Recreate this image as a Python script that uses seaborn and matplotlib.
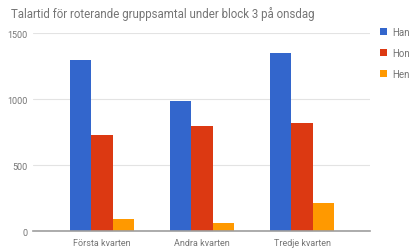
import pandas as pd
import matplotlib.pyplot as plt
import seaborn as sns

# Values
kvartar = ['Första kvarten', 'Andra kvarten', 'Tredje kvarten']
han = [1295, 985, 1350]
hon = [728, 797, 820]
hen = [92, 65, 218]
serier = ['Han', 'Hon', 'Hen']
farger = ['#3366cc', '#dc3912', '#ff9900']
yticks = [0, 500, 1000, 1500]

df = pd.DataFrame({
    'kvart': kvartar * 3,
    'tid': han + hon + hen,
    'kön': [s for s in serier for _ in kvartar],
})

sns.set_theme(style='white')
plt.rcParams['font.family'] = ['Roboto', 'DejaVu Sans']

fig = plt.figure(figsize=(4.2, 2.53), dpi=100)
ax = fig.add_axes([0.0786, 0.0818, 0.8024, 0.7826])

sns.barplot(data=df, x='kvart', y='tid', hue='kön', palette=farger,
            hue_order=serier, order=kvartar, width=0.64, linewidth=0,
            saturation=1, ax=ax)

ax.set_xlim(-0.69, 2.68)
ax.set_ylim(0, 1500)
ax.set_yticks(yticks)
ax.set_xlabel('')
ax.set_ylabel('')
ax.grid(axis='y', color='#e3e3e3', linewidth=0.8)
ax.set_axisbelow(True)
for side in ['top', 'right', 'left']:
    ax.spines[side].set_visible(False)
ax.spines['bottom'].set_color('#9e9e9e')
ax.spines['bottom'].set_linewidth(1.2)
ax.tick_params(axis='both', length=0, labelsize=6.5, colors='#757575')
ax.tick_params(axis='y', pad=4)
ax.tick_params(axis='x', pad=5)

fig.text(0.026, 0.945, 'Talartid för roterande gruppsamtal under block 3 på onsdag',
         fontsize=8.3, color='#757575', va='center', ha='left')

sns.move_legend(ax, loc='upper left', bbox_to_anchor=(0.896, 0.905),
                bbox_transform=fig.transFigure, frameon=False, title=None,
                fontsize=7, handlelength=0.7, handleheight=0.7,
                handletextpad=0.55, labelspacing=1.15, borderaxespad=0)
for t in ax.get_legend().get_texts():
    t.set_color('#757575')

plt.savefig('out.png', dpi=100)
